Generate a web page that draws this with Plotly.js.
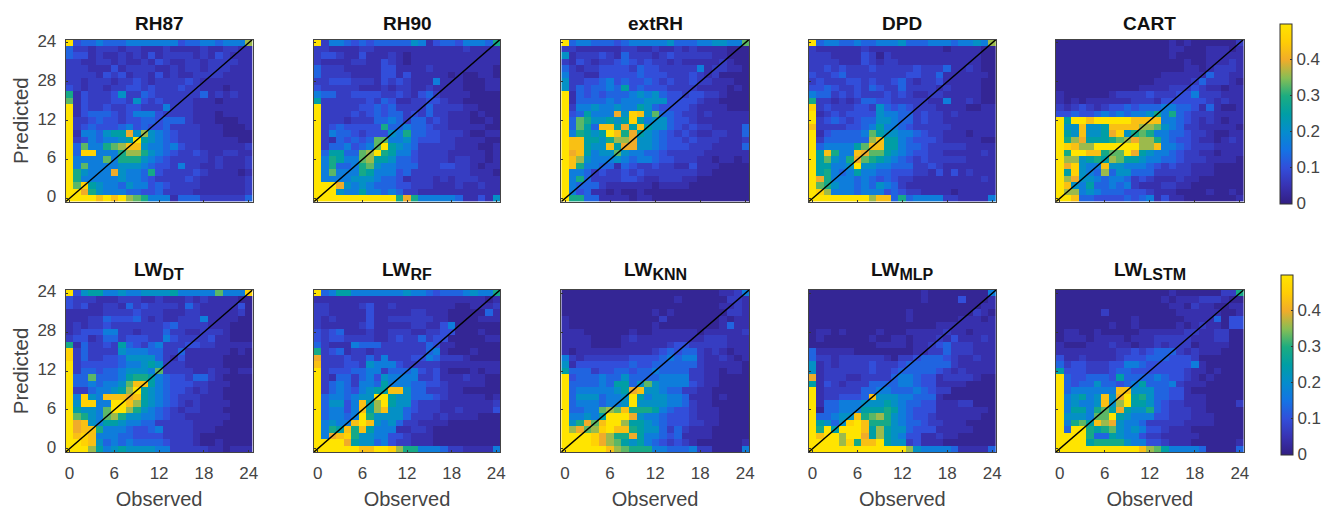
<!DOCTYPE html>
<html><head><meta charset="utf-8">
<script src="https://cdn.plot.ly/plotly-3.0.1.min.js"></script>
<style>html,body{margin:0;padding:0;background:#fff}#chart{width:1324px;height:510px}</style>
</head><body><div id="chart"></div>
<script>
// Each row is one predicted hour (top row = 24, bottom row = 0), each hex digit one observed hour.
const zLevels = [0.005,0.02,0.045,0.07,0.1,0.13,0.17,0.21,0.25,0.29,0.33,0.36,0.4,0.43,0.46,0.5];
const rh87 = [
"f4556 55566 66666 45566 5666b","53323 33233 22232 22232 23322","54423 22323 24233 33232 43222","33223 32322 32432 23323 33322","33322 24233 33223 23323 33222",
"33332 43423 32423 22333 32222","33233 32334 32333 34322 22222","43233 23344 34333 43322 21222","92433 34733 54333 33352 32322","a2433 34437 43433 33222 12222",
"f2433 43344 33363 33222 22222","f2455 54346 66433 33222 12222","f3345 44344 55455 53222 11122","f3454 44564 54453 33322 21112","f2665 788c7 b7654 33322 21111",
"f3465 6678f 87654 33322 22211","f5a66 9abdd 76656 43322 22223","f5ee6 669bb 97654 33432 23322","f6666 a6999 76543 33332 32223","f6a66 66777 65443 63322 32223",
"f9766 6c766 59433 33432 22212","f9666 66766 54333 34322 22223","fae87 66576 64543 33322 22223","ffc97 66655 44533 33222 22223","ffffd fdfba 96662 55533 33335"];
const rh90 = [
"f3665 45455 55576 24554 66659","33222 23322 22222 22222 32222","34432 24222 32122 22222 22222","32222 33224 32122 22222 22222","53332 22224 42222 32222 22221",
"53333 22224 42422 22212 11221","33444 33324 34322 26222 11122","43333 32223 23322 32222 11122","65533 44443 34324 53222 21111","83333 33435 42233 44322 11111",
"f3333 34454 53333 53333 22111","f3333 43454 55343 53322 21211","f3332 33355 65355 34322 21121","f3454 44449 55655 43322 22211","f3655 43444 76955 44333 21122",
"f3254 545aa 66754 44332 22211","f3556 456af 87653 33332 22112","f5885 5abf9 86643 33322 22212","f6986 6ab88 75543 33323 32212","f6955 69a76 65553 33443 32122",
"f6a66 69866 64533 33333 32221","f6666 77765 54233 32323 33222","fffc7 67655 54433 32223 22322","fff76 68665 65332 22222 22222","fffff fffff f9c96 66665 22427"];
const extRH = [
"f5665 55456 66667 55566 7766a","33222 22233 22322 32322 22111","72333 43253 33234 33333 22111","32432 33454 34332 32222 23211","53233 44443 54433 33362 33221",
"63322 44444 54443 33432 31111","73344 56454 45434 33433 22211","73545 56584 54443 33322 22121","f2545 45556 76754 43443 32111","f2555 56566 67774 44432 21111",
"f3667 66766 87544 44322 22111","f4586 66c7e d7a55 43323 22222","f5a97 7878e 86775 44322 22222","f5a85 dd8c8 d8775 43433 22225","f6987 8fd9c 87654 34322 33225",
"fdd88 79bbc 77654 43433 32223","fdd87 7d8cc 77654 44333 22225","fcd86 77a76 65543 33332 22222","fdb76 66765 66544 33322 12212","fd966 55254 33433 22422 21111",
"f6653 43343 43333 33322 11111","f6953 33344 32233 32211 11111","f6555 32222 22122 22111 11111","f6452 21211 21111 11111 11111","f9955 22221 22111 11111 11111"];
const dpd = [
"f5665 56556 66755 56665 6676b","32222 22322 22222 22212 22211","33322 22431 32222 22222 22211","33332 22432 33222 22222 22211","33434 33343 33334 33352 23211",
"43345 33333 33344 33522 22221","34333 44343 34532 33422 22211","44543 34354 33533 33232 22211","65534 34333 43432 23322 22211","93323 23554 43333 32262 23211",
"e3433 34437 54543 33222 21122","f2343 44447 66553 43323 22222","f3454 34557 76553 43322 22222","d3333 44568 66543 33332 22222","f2455 556a8 77665 43322 21222",
"f3555 555bd 88654 44322 22211","f5666 68add 88655 43333 32222","f8d96 6dcaa 87654 43322 22232","f8a76 9ca98 76543 43333 32222","f8866 7f776 65553 34322 22222",
"f8965 68665 54443 32424 23222","fc966 65654 54332 22222 22232","fa976 65657 65322 22222 22222","feb66 65666 45433 22221 22222","fffff fffbd d5956 66633 22226"];
const cart = [
"11111 11111 11111 21211 11113","11111 11111 11111 22111 22212","11111 11111 11111 21111 22222","11111 11111 11111 11211 22232","11111 11111 11111 11221 23332",
"11111 11111 11112 22222 53322","11111 11111 11122 22235 33321","11111 11111 12222 33343 22122","21111 11233 33433 34463 33222","21212 22222 33324 44444 32322",
"32343 23445 45556 65542 52112","44544 56565 66796 95433 32222","f8ffd fffff dddd6 65432 32122","f77d7 78ddd dbba7 65332 22221","f87d7 78ce7 9a966 55433 21122",
"f9bc8 889ab cbb96 54432 21232","fedbb fffff fbbd6 65433 32222","f9ffd d9aaf c8766 54332 21222","fbb78 98ba8 87665 54333 22221","fce76 6d776 66543 43322 21111",
"f8e76 5b577 55533 33322 21111","fbc77 65665 34322 23221 11111","fd768 55656 32223 32211 11111","fbb67 65554 44322 21111 21121","ffd55 44445 45624 22111 11112"];
const lwDT = [
"f4788 66766 77778 66666 a666e","43332 22333 22322 23232 22211","43422 33253 43333 25322 22241","22222 33334 33322 23322 22231","22233 54445 32322 33362 22211",
"23233 43333 33345 33332 22111","23444 66332 33353 32233 32111","34423 55344 43364 33334 22111","92533 43854 35633 34433 22222","e3533 33766 65533 52222 22121",
"e3533 44577 77532 42222 21111","f3444 44566 78733 32222 21111","f3554 55677 76a33 33223 22122","f55a5 55689 98654 43553 21111","f5565 667ad d8654 44332 22111",
"f3356 678bf 87654 43232 21111","f6e76 dddcd 87654 33322 21111","f7ee6 6ffdb 87654 32322 22111","f8776 affb9 76543 23322 21111","fa976 ab977 66543 32222 22111",
"fcd76 88766 55333 33222 21111","fcdd9 66654 45633 33222 11111","fded6 66554 44433 33211 11111","ffed7 56565 55543 33211 21111","fffb8 67877 77663 33332 21222"];
const lwRF = [
"f5688 66666 66766 54555 67669","22222 22222 22222 22222 22212","33222 23422 32222 22221 12223","33222 22422 22233 22211 11152","32322 22422 33333 32211 11222",
"32222 23422 22233 22461 11111","43452 22322 33322 33441 11211","43443 33322 34335 34411 11122","53222 65553 33333 54221 11111","93452 33233 33333 56211 12111",
"c3334 33536 33344 65333 21111","d3334 43766 64333 33222 22222","f3444 55663 55564 34211 12122","f3255 35647 66663 34222 32211","f3565 36658 66655 44322 22211",
"f3565 46788 dd755 33322 11111","f5665 677ff 87755 54322 22212","f5774 6d8bf 87743 33222 22223","f5664 6d8bd 77543 33223 22224","f5665 6f977 77533 32322 22111",
"f6766 dfd76 75332 22211 11111","f698d 9d866 62233 21111 11111","f6cde 97766 44322 21111 11111","ffffc 87756 43322 21111 11111","fffff fddff eb996 66533 22226"];
const lwKNN = [
"11111 11111 11111 11111 12236","11111 11111 11111 21111 11332","11111 11111 11111 11111 12232","11111 11111 11212 11111 11332","21111 11111 11131 11111 12122",
"21111 11111 11211 11111 12522","22211 11112 11222 22212 22223","22221 11123 22222 22223 33222","22221 11122 22223 44333 33222","21222 22222 22345 45532 32122",
"63233 33334 44456 56632 23212","72444 44445 44555 55532 22221","85553 44554 55655 55332 21221","f4555 65575 55566 66332 21111","f5555 65885 7a766 66432 21111",
"f5666 6678c d7765 53322 11111","f5777 5667f 86776 65222 12111","f5666 5667f 77776 65322 11111","f5566 abad9 99865 44322 21111","f6676 8fffc 76654 44322 21111",
"f79ca dffb8 87654 44332 21111","fbcab efdd9 87753 53222 11111","ffffe cb99c 86654 52222 11111","ffffe cba87 86543 43211 11112","fffff fdba9 99665 55633 11116"];
const lwMLP = [
"11111 11111 11111 21111 11116","11111 11111 11111 21111 41112","11111 11111 11111 11111 11122","11111 11111 11121 11111 11321","11111 11111 11121 11111 22212",
"11111 11111 11111 11222 22222","12212 11112 11122 22232 21222","12111 11121 12212 22324 22232","11111 11112 22212 23453 33222","52222 21111 11112 23353 33222",
"53323 33333 21334 55543 22322","72323 33343 33455 55553 22222","72333 33343 34555 55432 32222","c2333 22333 35665 44233 33211","82432 33355 55665 44222 21111",
"f2333 33556 65556 54331 11111","f2334 445d7 77665 55211 11111","f2556 66777 87655 44222 33111","f1556 66888 98654 44222 22221","f5567 7d9ab 97654 43222 22211",
"f8757 efd99 97655 43322 21111","f9f8f ffd8b 87754 44222 22111","fdffb ffc8b 87644 22322 11111","ffffb e9ddf 87734 22211 11111","fffff fffff fffb7 66665 22225"];
const lwLSTM = [
"11111 11111 11111 21111 11339","11111 11111 11112 12223 33211","11111 11111 11111 22132 21122","11111 13111 11111 12222 22112","11111 11111 21111 11222 25144",
"11111 11211 21111 12123 22144","12211 21111 12222 22332 23311","12221 22221 22233 33322 23311","21112 22322 12232 33312 22211","22222 22233 43455 53232 22111",
"42232 22234 44555 44431 11111","53443 33446 65444 44462 11111","84443 33455 44444 44322 12111","f5445 55485 55565 44321 21111","f5455 75545 68555 63222 11111",
"f5666 666dd 77755 44211 11111","f6786 7d7cf 89755 44222 11111","f6766 7d7bf 88754 33222 11113","f6886 9a8c8 77954 33322 11111","f7776 aaf87 66644 33322 21111",
"f69a8 dbc76 65333 33222 21111","f5ff9 89a76 76443 22211 11111","ffff9 55876 64332 22221 11111","ffff8 99997 66443 22211 11112","fffff fffff fdba8 66665 11115"];

const panelData = [rh87, rh90, extRH, dpd, cart, lwDT, lwRF, lwKNN, lwMLP, lwLSTM];
const panelNames = ["RH87","RH90","extRH","DPD","CART","LW","LW","LW","LW","LW"];
const panelSubs = ["","","","","","DT","RF","KNN","MLP","LSTM"];
const hours = Array.from({length:25},(_,i)=>i);
const tickVals = [0,6,12,18,24];
const xTickText = ["0","6","12","18","24"];
const yTickText = ["0","6","12","28","24"];
const diagonal = [-0.5,24.5];
const barTicks = [0,0.1,0.2,0.3,0.4];

const W=1324,H=510;
const lefts=[65.7,314,561.3,808.7,1056], widths=[186.8,186,187.7,187.3,187.6];
const rows=[[39.5,201.7],[290,452]];
const bars=[{x:1279.5,top:23.5,bottom:203.5},{x:1281,top:275,bottom:454.5}];
const scale=[[0,'rgb(50,30,130)'],[0.1,'rgb(56,50,178)'],[0.2,'rgb(50,78,218)'],[0.3,'rgb(20,115,228)'],[0.4,'rgb(5,140,205)'],
 [0.5,'rgb(0,158,165)'],[0.6,'rgb(28,172,128)'],[0.7,'rgb(135,190,85)'],[0.8,'rgb(240,172,42)'],[0.9,'rgb(255,205,5)'],[1,'rgb(255,228,0)']];
const fam='"Liberation Sans",Arial,sans-serif';

const decode=rows_=>rows_.slice().reverse().map(r=>r.replace(/ /g,'').split('').map(c=>zLevels[parseInt(c,16)]));

const traces=[],layout={width:W,height:H,margin:{l:0,r:0,t:0,b:0},paper_bgcolor:'#fff',plot_bgcolor:'#fff',showlegend:false,annotations:[],font:{family:fam}};
panelData.forEach((d,i)=>{
  const c=i%5,r=Math.floor(i/5),n=i+1,sx=n===1?'':n;
  const xk='xaxis'+sx,yk='yaxis'+sx,[top,bottom]=rows[r];
  const axis={range:[-0.5,24.5],tickvals:tickVals,ticks:'inside',ticklen:2,tickwidth:1,tickcolor:'#333',showgrid:false,zeroline:false,
    showline:true,linecolor:'#444',linewidth:1,mirror:true,tickfont:{family:fam,size:17,color:'#444'}};
  layout[xk]=Object.assign({},axis,{domain:[lefts[c]/W,(lefts[c]+widths[c])/W],anchor:'y'+sx,ticktext:xTickText,showticklabels:r===1,ticklabelstandoff:6});
  layout[yk]=Object.assign({},axis,{domain:[1-bottom/H,1-top/H],anchor:'x'+sx,ticktext:yTickText,showticklabels:c===0,ticklabelstandoff:5,ticklabelshift:-2});
  if(r===1) layout[xk].title={text:'Observed',font:{family:fam,size:20,color:'#444'},standoff:10};
  if(c===0) layout[yk].title={text:'Predicted',font:{family:fam,size:20.5,color:'#444'},standoff:3};
  const tr={type:'heatmap',x:hours,y:hours,z:decode(d),xaxis:'x'+sx,yaxis:'y'+sx,zmin:0,zmax:0.5,colorscale:scale,showscale:c===4,hoverongaps:false};
  if(c===4){const b=bars[r];tr.colorbar={x:b.x/W,xanchor:'left',xpad:0,ypad:0,thicknessmode:'pixels',thickness:12,lenmode:'fraction',len:(b.bottom-b.top)/H,y:1-b.bottom/H,yanchor:'bottom',
    tickvals:barTicks,ticktext:barTicks.map(String),ticks:'inside',ticklen:2,tickcolor:'#333',outlinecolor:'#333',outlinewidth:1,tickfont:{family:fam,size:17,color:'#444'}};}
  traces.push(tr);
  traces.push({type:'scatter',mode:'lines',x:diagonal,y:diagonal,xaxis:'x'+sx,yaxis:'y'+sx,line:{color:'#000',width:1.4},hoverinfo:'skip'});
  const sub=panelSubs[i]?'<sub><span style="font-size:16px">'+panelSubs[i]+'</span></sub>':'';
  layout.annotations.push({xref:'paper',yref:'paper',x:(lefts[c]+widths[c]/2)/W,y:1-(top-(r===0?3:5))/H,xanchor:'center',yanchor:'bottom',showarrow:false,
    text:'<b>'+panelNames[i]+sub+'</b>',font:{family:fam,size:19,color:'#111'}});
});
Plotly.newPlot('chart',traces,layout,{displayModeBar:false,responsive:false});
</script></body></html>
